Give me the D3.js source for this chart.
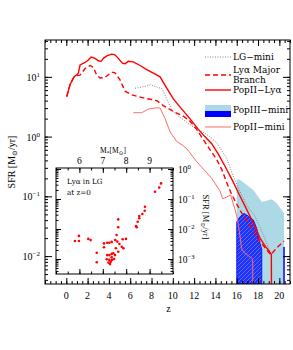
<!DOCTYPE html>
<html>
<head>
<meta charset="UTF-8">
<script src="https://d3js.org/d3.v7.min.js"></script>
<style>
  body { margin: 0; background: #fff; }
  text { font-family: "Liberation Serif", "DejaVu Serif", serif; fill: #000; }
  .dv { font-family: "DejaVu Serif", serif; }
</style>
</head>
<body>
<div id="chart"></div>
<script>
// ---- data ----
// PopII-Lya (solid red)
const lyaZ   = [0.04,0.35,0.72,1.13,1.29,1.76,2.07,2.32,2.7,3.0,3.26,3.48,3.8,4.26,4.57,4.88,5.26,5.51,5.82,6.29,6.92,7.55,8.17,8.8,9.43,10.05,10.84,11.6,12.4,13.0,13.65,14.3,15.0,15.7,16.15,16.94,17.7,18.19,18.66,19.25,19.3];
const lyaSfr = [4.68,7.41,10,11.5,15.8,17.4,19.1,21.4,20.4,18.6,18.2,20.4,22.4,24.0,23.4,20.4,17.0,16.6,18.2,17.8,15.5,13.2,11.5,10.0,6.46,4.27,2.88,2.0,1.32,1.0,0.76,0.50,0.295,0.17,0.115,0.060,0.032,0.020,0.0148,0.0107,0.00001];
// Lya major branch (dashed red)
const majZ   = [0.04,0.35,0.72,1.0,1.29,1.76,2.23,2.54,2.85,3.16,3.63,4.26,4.57,5.04,5.51,6.14,6.76,7.39,8.02,8.5,9.1,10.05,11.0,11.6,12.24,12.86,13.5,14.1,14.6,15.06,15.53,16.0,16.62,17.4,18.03,18.66,19.2,19.76,20.44];
const majSfr = [4.68,7.41,10,10.5,10.7,13.8,15.5,14.5,10.7,9.55,9.77,12.0,11.7,8.91,5.75,5.01,4.68,4.37,4.17,3.98,3.31,2.63,2.19,1.82,1.32,0.89,0.60,0.42,0.28,0.17,0.107,0.074,0.047,0.030,0.019,0.0138,0.0105,0.0138,0.0178];
// LG-mini (dotted grey)
const lgZ    = [6.45,7.39,7.86,8.49,9.0,9.45,9.9,10.37,11.0,11.6,12.24,12.7,13.5,14.2,14.6,15.06,15.53,16.15,16.94,17.7,18.19,18.66,19.1];
const lgSfr  = [6.46,6.92,7.41,6.76,6.31,4.17,2.82,2.29,1.91,1.58,1.35,1.23,1.0,0.76,0.575,0.437,0.251,0.138,0.0708,0.0468,0.0302,0.0191,0.0123];
// PopII-mini (thin pink)
const miniZ  = [6.29,7.08,7.7,8.33,8.8,9.27,9.74,10.37,10.9,11.3,12.24,13.18,13.65,14.43,14.68,15.43,15.84,16.06,16.3,16.46,16.69,17.5,17.52];
const miniSfr= [2.51,2.51,2.88,3.02,3.02,2.0,1.2,0.83,0.72,0.63,0.38,0.25,0.2,0.123,0.091,0.105,0.060,0.042,0.0219,0.0132,0.0115,0.0089,0.00001];
// PopIII (inset scale)
const p3miniZ   = [16.0,16.3,16.94,17.56,18.35,18.8,19.29,19.76,20.44];
const p3miniSfr = [0.457,0.44,0.295,0.2,0.081,0.088,0.098,0.072,0.033];
const p3lyaZ    = [16.0,16.31,16.69,17.09,17.56,17.88,18.19,18.35];
const p3lyaSfr  = [0.0174,0.0257,0.0331,0.0269,0.02,0.0105,0.0033,0.0021];
const p3spikeZ  = [20.42,20.46];
const p3spikeSfr= [0.0025,0.0025];
// inset: Lya emitters in LG at z=0
const lgLogMstar = [5.81,5.98,5.98,6.38,6.48,6.74,6.74,7.05,7.05,7.19,7.28,7.38,7.19,7.28,7.38,7.17,7.28,7.24,7.31,7.39,7.52,7.53,7.59,7.66,7.66,7.62,7.71,7.85,7.99,7.81,7.88,7.56,7.66,7.45,7.38,7.48,7.34,8.45,8.42,8.49,8.56,8.56,8.69,8.79,8.8,9.23,9.41,9.49];
const lgLogSfr   = [-2.40,-2.23,-2.40,-2.33,-2.37,-2.79,-3.11,-2.48,-2.61,-2.46,-2.46,-2.43,-2.87,-2.87,-2.83,-3.01,-3.03,-3.12,-3.17,-3.03,-2.87,-2.37,-2.2,-1.68,-1.94,-2.42,-2.5,-2.34,-2.33,-2.59,-2.64,-2.64,-2.76,-2.81,-2.94,-3.0,-3.09,-1.94,-1.9,-1.76,-1.64,-1.57,-1.5,-1.39,-1.26,-0.76,-0.62,-0.48];

const zMajor = d3.range(0, 21, 2);
const zLabels = ["0","2","4","6","8","10","12","14","16","18","20"];
const yExp = [1, 0, -1, -2];
const mMajor = [6, 7, 8, 9];
const insetExp = [0, -1, -2, -3];

const width = 293, height = 350;
const L = 45, R = 290, T = 40, B = 284;

const svg = d3.select("#chart").append("svg")
    .attr("width", width).attr("height", height);

const x = d3.scaleLinear().domain([-2, 21]).range([L, R]);
const y = d3.scaleLog().domain([Math.pow(10, -2.467), Math.pow(10, 1.617)]).range([B, T]);
// inset scales
const xm = d3.scaleLinear().domain([5, 10]).range([56, 173]);
const yi = d3.scaleLog().domain([1e-3, 1]).range([259, 169]);
const iT = 168, iB = 274, iL = 56, iR = 173;

const defs = svg.append("defs");
defs.append("clipPath").attr("id", "clipMain")
  .append("rect").attr("x", L).attr("y", T).attr("width", R - L).attr("height", B - T);
const pat = defs.append("pattern").attr("id", "hatch")
  .attr("patternUnits", "userSpaceOnUse").attr("width", 4).attr("height", 4);
pat.append("rect").attr("width", 4).attr("height", 4).attr("fill", "#1e32f8");
pat.append("path").attr("d", "M-1,1 l2,-2 M0,4 l4,-4 M3,5 l2,-2")
  .attr("stroke", "#6a7aff").attr("stroke-width", 0.8);

function sup(sel, base, exp) {
  sel.text(base);
  sel.append("tspan").attr("dy", -4).attr("font-size", "70%").text(exp);
}
const expStr = e => e < 0 ? "\u2212" + (-e) : String(e);

// ---- PopIII areas ----
const plot = svg.append("g").attr("clip-path", "url(#clipMain)");
const areaI = d3.area().x(d => x(d[0])).y0(B).y1(d => yi(d[1]));
plot.append("path").datum(d3.zip(p3miniZ, p3miniSfr))
  .attr("d", areaI).attr("fill", "#add8e6");
plot.append("path").datum(d3.zip(p3lyaZ, p3lyaSfr))
  .attr("d", areaI).attr("fill", "url(#hatch)").attr("stroke", "#0000ff").attr("stroke-width", 0.8);
plot.append("path").datum(d3.zip(p3spikeZ, p3spikeSfr))
  .attr("d", areaI).attr("fill", "#0000ff").attr("stroke", "#0000ff").attr("stroke-width", 0.8);

// ---- main curves ----
const line = d3.line().x(d => x(d[0])).y(d => y(d[1]));
plot.append("path").datum(d3.zip(miniZ, miniSfr)).attr("d", line)
  .attr("fill", "none").attr("stroke", "#ff6a6a").attr("stroke-width", 1);
plot.append("path").datum(d3.zip(lgZ, lgSfr)).attr("d", line)
  .attr("fill", "none").attr("stroke", "#777").attr("stroke-width", 0.9).attr("stroke-dasharray", "1,1.5");
plot.append("path").datum(d3.zip(majZ, majSfr)).attr("d", line)
  .attr("fill", "none").attr("stroke", "#ff0000").attr("stroke-width", 1.4).attr("stroke-dasharray", "5,3");
plot.append("path").datum(d3.zip(lyaZ, lyaSfr)).attr("d", line)
  .attr("fill", "none").attr("stroke", "#ff0000").attr("stroke-width", 1.4);

// ---- main frame & ticks ----
const noDomain = g => g.select(".domain").remove();
const zMinor = d3.range(-2, 21.01, 0.5);
const yAll = y.ticks();
const yMaj = yAll.filter(v => Math.abs(Math.log10(v) - Math.round(Math.log10(v))) < 1e-6);
svg.append("g").attr("transform", `translate(0,${B})`).call(d3.axisBottom(x).tickValues(zMinor).tickSize(-3).tickFormat("")).call(noDomain);
svg.append("g").attr("transform", `translate(0,${B})`).call(d3.axisBottom(x).tickValues(zMajor).tickSize(-6).tickFormat("")).call(noDomain);
svg.append("g").attr("transform", `translate(0,${T})`).call(d3.axisTop(x).tickValues(zMinor).tickSize(-3).tickFormat("")).call(noDomain);
svg.append("g").attr("transform", `translate(0,${T})`).call(d3.axisTop(x).tickValues(zMajor).tickSize(-6).tickFormat("")).call(noDomain);
svg.append("g").attr("transform", `translate(${L},0)`).call(d3.axisLeft(y).tickValues(yAll).tickSize(-3).tickFormat("")).call(noDomain);
svg.append("g").attr("transform", `translate(${L},0)`).call(d3.axisLeft(y).tickValues(yMaj).tickSize(-7).tickFormat("")).call(noDomain);
svg.append("g").attr("transform", `translate(${R},0)`).call(d3.axisRight(y).tickValues(yAll).tickSize(-3).tickFormat("")).call(noDomain);
svg.append("g").attr("transform", `translate(${R},0)`).call(d3.axisRight(y).tickValues(yMaj).tickSize(-7).tickFormat("")).call(noDomain);
svg.append("rect").attr("x", L).attr("y", T).attr("width", R - L).attr("height", B - T)
  .attr("fill", "none").attr("stroke", "#000").attr("stroke-width", 1);

svg.selectAll(".xlab").data(zMajor).enter().append("text")
  .attr("x", (d, i) => x(d)).attr("y", 299).attr("text-anchor", "middle")
  .attr("font-size", 10).text((d, i) => zLabels[i]);
svg.selectAll(".ylab").data(yExp).enter().append("text")
  .attr("x", 40).attr("y", d => y(Math.pow(10, d)) + 4).attr("text-anchor", "end")
  .attr("font-size", 10).each(function (d) { sup(d3.select(this), "10", expStr(d)); });
svg.append("text").attr("x", x(9.6)).attr("y", 312).attr("text-anchor", "middle")
  .attr("font-size", 10).text("z");
const yl = svg.append("text").attr("transform", "translate(15,162) rotate(-90)")
  .attr("text-anchor", "middle").attr("font-size", 10).text("SFR [M");
yl.append("tspan").attr("dy", 2).attr("font-size", "70%").text("\u2299");
yl.append("tspan").attr("dy", -2).text("/yr]");

// ---- inset: LG Lya emitters ----
const ins = svg.append("g");
ins.append("rect").attr("x", iL).attr("y", iT).attr("width", iR - iL).attr("height", iB - iT)
  .attr("fill", "#fff");
const mMinor = d3.range(5, 10.01, 0.5);
const yiAll = yi.copy().domain([Math.pow(10, -3.5), Math.pow(10, 0.03)]).ticks();
const yiMaj = yiAll.filter(v => Math.abs(Math.log10(v) - Math.round(Math.log10(v))) < 1e-6);
ins.append("g").attr("transform", `translate(0,${iB})`).call(d3.axisBottom(xm).tickValues(mMinor).tickSize(-2.5).tickFormat("")).call(noDomain);
ins.append("g").attr("transform", `translate(0,${iB})`).call(d3.axisBottom(xm).tickValues(mMajor).tickSize(-5).tickFormat("")).call(noDomain);
ins.append("g").attr("transform", `translate(0,${iT})`).call(d3.axisTop(xm).tickValues(mMinor).tickSize(-2.5).tickFormat("")).call(noDomain);
ins.append("g").attr("transform", `translate(0,${iT})`).call(d3.axisTop(xm).tickValues(mMajor).tickSize(-5).tickFormat("")).call(noDomain);
ins.append("g").attr("transform", `translate(${iL},0)`).call(d3.axisLeft(yi).tickValues(yiAll).tickSize(-2.5).tickFormat("")).call(noDomain);
ins.append("g").attr("transform", `translate(${iL},0)`).call(d3.axisLeft(yi).tickValues(yiMaj).tickSize(-5).tickFormat("")).call(noDomain);
ins.append("g").attr("transform", `translate(${iR},0)`).call(d3.axisRight(yi).tickValues(yiAll).tickSize(-2.5).tickFormat("")).call(noDomain);
ins.append("g").attr("transform", `translate(${iR},0)`).call(d3.axisRight(yi).tickValues(yiMaj).tickSize(-5).tickFormat("")).call(noDomain);
ins.append("rect").attr("x", iL).attr("y", iT).attr("width", iR - iL).attr("height", iB - iT)
  .attr("fill", "none").attr("stroke", "#000").attr("stroke-width", 1);
ins.selectAll(".pt").data(d3.zip(lgLogMstar, lgLogSfr)).enter().append("circle")
  .attr("cx", d => xm(d[0])).attr("cy", d => yi(Math.pow(10, d[1])))
  .attr("r", 1.3).attr("fill", "#ff0000");
ins.selectAll(".mlab").data(mMajor).enter().append("text")
  .attr("x", d => xm(d)).attr("y", 164).attr("text-anchor", "middle")
  .attr("font-size", 9.5).text(d => d);
const mt = ins.append("text").attr("x", 113).attr("y", 153).attr("text-anchor", "middle")
  .attr("font-size", 7.5).text("M");
mt.append("tspan").attr("dy", 2).attr("font-size", "75%").text("*");
mt.append("tspan").attr("dy", -2).text("[M");
mt.append("tspan").attr("dy", 2).attr("font-size", "75%").text("\u2299");
mt.append("tspan").attr("dy", -2).text("]");
ins.append("text").attr("class", "dv").attr("x", 67).attr("y", 184).attr("font-size", 7.2).text("Ly\u03b1 in LG");
ins.append("text").attr("class", "dv").attr("x", 67).attr("y", 195).attr("font-size", 7.2).text("at z=0");

// ---- PopIII inset axis labels ----
svg.selectAll(".ilab").data(insetExp).enter().append("text")
  .attr("x", 178).attr("y", d => yi(Math.pow(10, d)) + 3.5)
  .attr("font-size", 9.5).each(function (d) { sup(d3.select(this), "10", expStr(d)); });
const il = svg.append("text").attr("transform", "translate(203,217) rotate(90)")
  .attr("text-anchor", "middle").attr("font-size", 8.5).text("SFR [M");
il.append("tspan").attr("dy", 2).attr("font-size", "70%").text("\u2299");
il.append("tspan").attr("dy", -2).text("/yr]");

// ---- legend ----
const lg = svg.append("g").attr("class", "dv");
const lx0 = 205, lx1 = 231, tx = 233;
const fs = 9;
lg.append("line").attr("x1", lx0).attr("x2", lx1).attr("y1", 57).attr("y2", 57)
  .attr("stroke", "#777").attr("stroke-width", 0.9).attr("stroke-dasharray", "1,1.5");
lg.append("text").attr("class", "dv").attr("x", tx).attr("y", 60).attr("font-size", fs).text("LG\u2212mini");
lg.append("line").attr("x1", lx0).attr("x2", lx1).attr("y1", 75).attr("y2", 75)
  .attr("stroke", "#ff0000").attr("stroke-width", 1.4).attr("stroke-dasharray", "5,3");
lg.append("text").attr("class", "dv").attr("x", tx).attr("y", 73).attr("font-size", fs).text("Ly\u03b1 Major");
lg.append("text").attr("class", "dv").attr("x", tx).attr("y", 83).attr("font-size", fs).text("Branch");
lg.append("line").attr("x1", lx0).attr("x2", lx1).attr("y1", 90).attr("y2", 90)
  .attr("stroke", "#ff0000").attr("stroke-width", 1.4);
lg.append("text").attr("class", "dv").attr("x", tx).attr("y", 93).attr("font-size", fs).text("PopII\u2212Ly\u03b1");
lg.append("rect").attr("x", lx0).attr("y", 105).attr("width", lx1 - lx0).attr("height", 6).attr("fill", "#add8e6");
lg.append("rect").attr("x", lx0).attr("y", 111).attr("width", lx1 - lx0).attr("height", 6).attr("fill", "#0000ff");
lg.append("text").attr("class", "dv").attr("x", tx).attr("y", 113).attr("font-size", fs).text("PopIII\u2212mini");
lg.append("line").attr("x1", lx0).attr("x2", lx1).attr("y1", 127).attr("y2", 127)
  .attr("stroke", "#ff6a6a").attr("stroke-width", 1);
lg.append("text").attr("class", "dv").attr("x", tx).attr("y", 130).attr("font-size", fs).text("PopII\u2212mini");
</script>
</body>
</html>
